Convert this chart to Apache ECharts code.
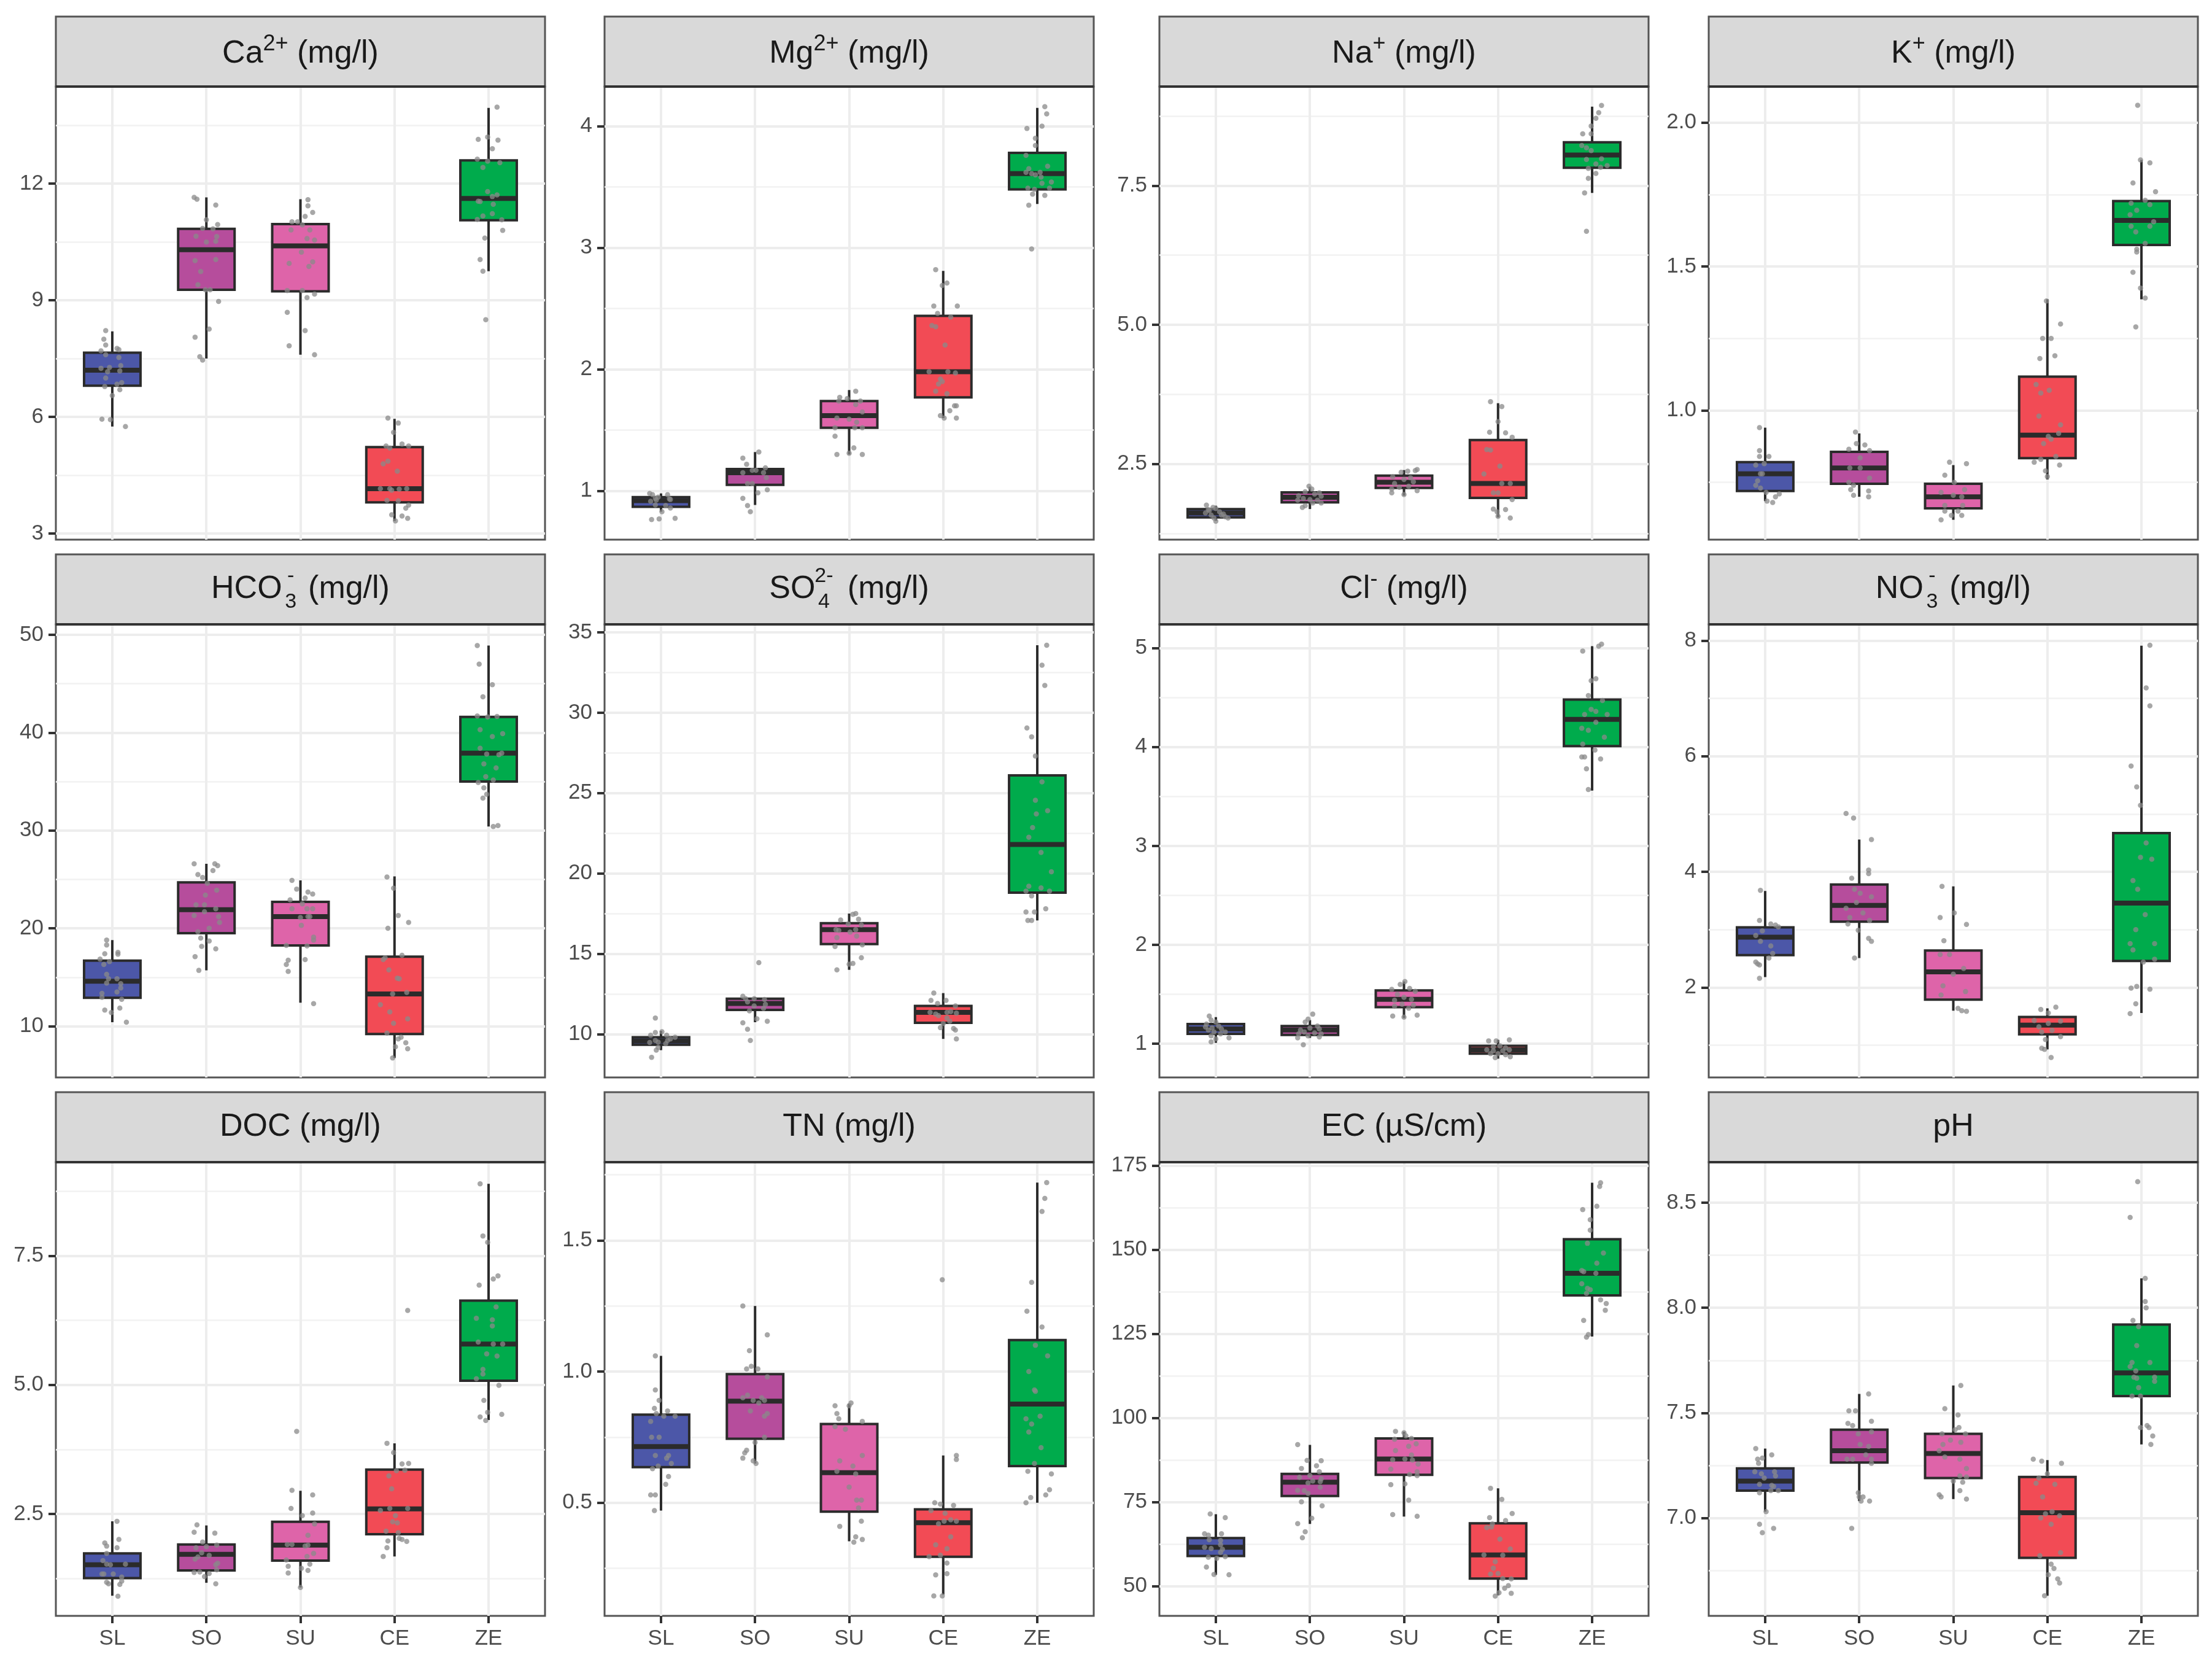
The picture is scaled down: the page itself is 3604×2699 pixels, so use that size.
<!DOCTYPE html>
<html>
<head>
<meta charset="utf-8">
<style>html,body{margin:0;background:#fff}#main{width:3604px;height:2699px}</style>
<script src="https://cdn.jsdelivr.net/npm/echarts@6/dist/echarts.min.js"></script>
</head>
<body>
<div id="main"></div>
<script>
const categories = ['SL', 'SO', 'SU', 'CE', 'ZE'];
const boxColors = ['#4C57A8', '#B64D9C', '#DE64A9', '#F24B55', '#00AB4C'];

// box stats per group: low whisker, q1, median, q3, high whisker
const caBoxes = [[5.75,6.8,7.2,7.65,8.2],[7.5,9.27,10.3,10.84,11.65],[7.6,9.23,10.4,10.96,11.6],[3.32,3.8,4.15,5.22,5.95],[9.75,11.06,11.62,12.6,13.95]];
const mgBoxes = [[.83,.87,.92,.95,.98],[.885,1.05,1.15,1.18,1.32],[1.3,1.52,1.62,1.74,1.83],[1.6,1.77,1.98,2.44,2.81],[3.36,3.48,3.61,3.78,4.15]];
const naBoxes = [[1.48,1.54,1.62,1.69,1.75],[1.69,1.81,1.9,1.99,2.09],[1.93,2.07,2.17,2.29,2.39],[1.54,1.89,2.15,2.93,3.59],[7.37,7.82,8.05,8.28,8.92]];
const kBoxes = [[.685,.72,.78,.82,.94],[.7,.745,.8,.856,.92],[.62,.66,.7,.745,.81],[.76,.834,.914,1.117,1.386],[1.386,1.575,1.66,1.727,1.87]];
const hco3Boxes = [[10.4,12.9,14.6,16.7,18.8],[15.7,19.5,21.9,24.7,26.6],[12.4,18.25,21.2,22.7,24.9],[6.75,9.2,13.3,17.1,25.3],[30.4,35,37.9,41.6,48.9]];
const so4Boxes = [[9,9.33,9.57,9.8,10.2],[10.74,11.5,11.9,12.2,12.3],[14,15.6,16.5,16.9,17.5],[9.7,10.7,11.35,11.75,12.55],[17.07,18.8,21.8,26.1,34.2]];
const clBoxes = [[1.01,1.1,1.15,1.2,1.27],[1.06,1.09,1.14,1.18,1.24],[1.26,1.37,1.45,1.54,1.63],[.85,.9,.94,.98,1.04],[3.56,4.01,4.28,4.48,5.02]];
const no3Boxes = [[2.18,2.56,2.87,3.04,3.67],[2.51,3.14,3.42,3.78,4.56],[1.6,1.79,2.27,2.64,3.75],[.93,1.19,1.35,1.49,1.64],[1.56,2.46,3.46,4.67,7.91]];
const docBoxes = [[.92,1.26,1.52,1.74,2.36],[1.17,1.41,1.72,1.91,2.28],[1.08,1.6,1.9,2.35,2.95],[1.68,2.11,2.6,3.36,3.87],[4.32,5.08,5.79,6.63,8.89]];
const tnBoxes = [[.47,.636,.714,.836,1.06],[.65,.744,.887,.99,1.25],[.353,.466,.615,.8,.878],[.15,.294,.424,.475,.68],[.5,.64,.876,1.12,1.72]];
const ecBoxes = [[53.4,59,61.6,64.3,71.4],[68.5,76.8,80.9,83.4,92],[70.7,83.1,87.8,93.9,95.9],[47.3,52.3,59.3,68.7,79.1],[124.2,136.4,143,153.1,169.9]];
const phBoxes = [[7.03,7.13,7.175,7.236,7.33],[7.08,7.264,7.32,7.42,7.59],[7.09,7.19,7.307,7.4,7.63],[6.63,6.81,7.025,7.195,7.275],[7.35,7.58,7.69,7.92,8.14]];

// tick labels
const caTicks = ['3','6','9','12'];
const mgTicks = ['1','2','3','4'];
const naTicks = ['2.5','5.0','7.5'];
const kTicks = ['1.0','1.5','2.0'];
const hco3Ticks = ['10','20','30','40','50'];
const so4Ticks = ['10','15','20','25','30','35'];
const clTicks = ['1','2','3','4','5'];
const no3Ticks = ['2','4','6','8'];
const docTicks = ['2.5','5.0','7.5'];
const tnTicks = ['0.5','1.0','1.5'];
const ecTicks = ['50','75','100','125','150','175'];
const phTicks = ['7.0','7.5','8.0','8.5'];

// minor grid lines
const caMinor = [4.5,7.5,10.5,13.5];
const mgMinor = [1.5,2.5,3.5];
const naMinor = [1.25,3.75,6.25,8.75];
const kMinor = [.75,1.25,1.75];
const hco3Minor = [15,25,35,45];
const so4Minor = [12.5,17.5,22.5,27.5,32.5];
const clMinor = [1.5,2.5,3.5,4.5];
const no3Minor = [1,3,5,7];
const docMinor = [1.25,3.75,6.25,8.75];
const tnMinor = [.25,.75,1.25,1.75];
const ecMinor = [62.5,87.5,112.5,137.5,162.5];
const phMinor = [6.75,7.25,7.75,8.25];

// jittered samples: group position + jitter, value
const caPoints = [[.93,8.22],[.91,8],[.93,7.85],[.88,7.7],[1.05,7.76],[1.07,7.73],[.93,7.6],[1.07,7.53],[1.09,7.32],[.88,7.25],[.97,7.27],[.95,7.16],[1.08,7.18],[.93,7],[1.1,6.88],[1.05,6.84],[.92,6.78],[1.08,6.7],[1,6.55],[.89,5.94],[.98,5.93],[1.14,5.75],
[1.87,11.65],[1.9,11.6],[2.1,11.45],[2,11.07],[1.96,10.85],[2.12,10.95],[2.07,10.84],[1.89,10.65],[2.11,10.64],[2.1,10.52],[2,10.5],[1.88,10.02],[2.1,10.05],[1.94,9.74],[1.91,9.4],[1.99,9.27],[2.04,9.27],[2.13,8.97],[2.03,8.26],[1.88,8.05],[1.93,7.55],[1.96,7.46],
[3.08,11.59],[3.08,11.43],[3.13,11.26],[3.05,11.16],[2.91,11.02],[2.97,11.02],[3.02,10.94],[2.9,10.81],[3.1,10.81],[3.07,10.59],[3.15,10.55],[3.01,10.24],[2.88,9.95],[3.13,9.99],[3.09,9.87],[2.86,9.25],[3.02,9.25],[3.15,9.16],[3.07,9.07],[2.86,8.69],[3.05,8.22],[2.88,7.83],[3.15,7.6],
[3.93,5.97],[4.04,5.84],[3.99,5.6],[3.91,5.25],[4.08,5.3],[4.15,5.25],[3.95,5.2],[3.93,4.86],[3.88,4.79],[4.03,4.6],[3.85,4.15],[3.95,4.15],[3.97,4.11],[4.05,4.14],[4.13,4.15],[3.92,3.85],[4.04,3.84],[4.15,3.73],[4.12,3.65],[3.97,3.48],[4.08,3.45],[4.01,3.32],[4.14,3.39],
[5.09,13.97],[4.99,13.2],[4.89,13.14],[5.1,13.12],[5.04,12.9],[4.88,12.63],[4.99,12.58],[5.12,12.54],[4.94,12.42],[4.99,11.8],[5.09,11.71],[5.04,11.67],[4.89,11.55],[4.91,11.54],[5.05,11.47],[5.04,11.23],[4.94,11.17],[4.88,11.08],[5.14,11.07],[5.15,10.8],[4.96,10.6],[4.91,10.05],[4.94,9.75],[4.97,8.5]];
const mgPoints = [[.9,.765],[.98,.77],[1.15,.775],[1.01,.83],[1.1,.86],[.94,.885],[.89,.915],[.95,.925],[1.09,.935],[.91,.97],[.88,.98],[1.07,.97],[.97,.95],[.94,.94],[1.1,.93],[1.05,.88],
[2.04,1.32],[1.87,1.27],[1.91,1.22],[2.11,1.19],[1.97,1.17],[2.01,1.17],[1.87,1.15],[2.09,1.15],[2.12,1.11],[1.92,1.06],[1.97,1.06],[2.13,1.01],[2.03,.985],[1.87,.94],[1.92,.88],[1.95,.83],
[3.07,1.82],[2.9,1.77],[2.98,1.76],[2.89,1.74],[3.12,1.74],[3.07,1.71],[3.14,1.65],[2.87,1.6],[3,1.59],[3.08,1.565],[3.14,1.52],[3.06,1.52],[2.85,1.52],[2.85,1.45],[3.05,1.355],[2.87,1.3],[3,1.31],[3.14,1.3],
[3.92,2.82],[4.04,2.71],[3.99,2.69],[3.9,2.52],[4.15,2.52],[3.94,2.46],[4.08,2.43],[3.88,2.36],[3.92,2.35],[4.02,2.2],[3.85,1.98],[4.05,1.98],[4.13,1.97],[3.97,1.92],[3.99,1.9],[3.95,1.88],[3.92,1.82],[4.04,1.8],[4.12,1.7],[4.14,1.7],[4.07,1.66],[3.97,1.62],[4.01,1.6],[4.14,1.6],
[5.08,4.16],[5.1,4.1],[4.89,3.98],[5.05,4],[4.98,3.9],[4.98,3.84],[4.88,3.76],[5.11,3.67],[4.91,3.65],[4.88,3.62],[4.94,3.61],[5.03,3.62],[4.98,3.6],[5.04,3.58],[5.05,3.53],[5.15,3.54],[4.9,3.49],[4.97,3.48],[5.13,3.49],[4.95,3.44],[5.08,3.43],[4.91,3.35],[4.94,2.99]];
const naPoints = [[.9,1.76],[.97,1.72],[1,1.7],[.93,1.66],[1.04,1.64],[1.08,1.6],[.89,1.62],[.95,1.58],[1.1,1.55],[.98,1.53],[1.13,1.53],[1,1.47],[1.06,1.58],[.92,1.68],
[1.99,2.1],[2.02,2.05],[1.95,2],[2.1,1.98],[1.88,1.93],[2.05,1.96],[2.12,1.92],[1.93,1.88],[2,1.86],[2.08,1.85],[1.87,1.85],[1.95,1.75],[1.92,1.72],[2.03,1.8],[2.12,1.8],
[3.14,2.4],[3.04,2.37],[2.97,2.35],[3.12,2.38],[2.88,2.27],[3.07,2.25],[3,2.22],[2.9,2.15],[3.1,2.18],[3.05,2.1],[2.87,2.05],[2.87,1.98],[3.14,2.02],[3,1.95],[2.95,2.08],
[3.92,3.62],[4.04,3.53],[4,3.26],[3.91,3.07],[4.08,3.06],[4.15,2.98],[3.88,2.76],[3.92,2.75],[4.02,2.46],[3.85,2.32],[4.04,2.15],[4.13,2.15],[3.95,1.98],[4,1.98],[4.15,1.86],[3.95,1.69],[3.99,1.64],[4.08,1.68],[4.13,1.53],[4,1.56],
[5.1,8.94],[5.07,8.81],[5.04,8.71],[4.99,8.57],[4.9,8.43],[4.99,8.43],[4.89,8.22],[4.94,8.18],[4.99,8.13],[4.94,7.97],[5.1,7.98],[5.04,7.89],[5.16,7.86],[5.09,7.83],[4.96,7.81],[5.04,7.72],[4.96,7.63],[4.92,7.37],[4.94,6.68]];
const kPoints = [[.94,.94],[.94,.86],[1.04,.84],[.94,.84],[.9,.81],[.99,.815],[.97,.78],[.95,.78],[.92,.755],[.9,.74],[.95,.73],[1.15,.71],[1.01,.715],[1.11,.7],[1.02,.685],[1.08,.68],
[1.96,.925],[1.97,.885],[1.89,.865],[2.06,.88],[2.11,.86],[2.01,.835],[1.9,.8],[2.01,.8],[2.11,.765],[1.89,.75],[1.94,.74],[1.91,.725],[2.1,.72],[1.94,.705],[2.1,.7],
[3.14,.815],[2.96,.82],[2.91,.775],[3.01,.75],[2.87,.715],[3.12,.725],[3,.705],[3.09,.7],[3.1,.67],[2.91,.67],[3.05,.65],[2.91,.65],[3.09,.635],[2.98,.635],[2.87,.62],
[3.99,1.38],[4.14,1.3],[3.95,1.25],[4.04,1.25],[3.92,1.18],[4.08,1.19],[3.88,1.09],[4.02,1.07],[3.93,1.06],[3.91,.98],[4.14,.95],[4.12,.92],[4.01,.91],[3.96,.885],[4.04,.9],[4.09,.84],[3.93,.83],[3.86,.82],[4.13,.81],[3.98,.79],[4,.77],
[4.96,2.06],[4.99,1.87],[5.09,1.86],[4.91,1.79],[5.15,1.76],[5.04,1.73],[5.09,1.715],[4.89,1.72],[4.95,1.695],[4.88,1.68],[5.13,1.655],[5.09,1.64],[4.89,1.64],[4.94,1.62],[5.04,1.58],[4.95,1.56],[4.95,1.55],[4.91,1.48],[4.99,1.425],[5.04,1.39],[4.94,1.29]];
const hco3Points = [[.94,18.8],[.94,18.3],[.92,17.4],[1.06,17.55],[1.06,17.35],[.87,16.85],[.97,16.6],[.91,16.3],[.94,15.3],[.96,14.85],[1.05,14.85],[.94,14.4],[1.09,14.35],[1.09,13.9],[1.05,13.5],[.89,13.35],[.89,12.95],[1.1,12.75],[1.08,11.85],[.92,11.65],[.99,11.4],[1.15,10.4],
[1.87,26.6],[2.09,26.6],[2.12,26.4],[2.07,25.9],[1.91,25.5],[1.96,25.2],[2.01,24.6],[2.11,23.9],[1.99,23.4],[1.89,22.4],[1.98,22.4],[2.1,22],[1.98,21.7],[1.87,21.3],[2.13,21.2],[2.14,20.6],[2.03,20],[1.91,19.65],[1.94,19],[2.03,18.7],[1.95,18.15],[2.1,17.9],[1.88,17.1],[1.92,15.7],
[2.91,24.9],[2.96,24],[3.08,23.7],[3.13,23.5],[3.05,23.1],[2.89,22.9],[3.02,22.5],[2.91,22],[3.07,22],[3.13,22],[3,21.1],[3.08,21.2],[3.1,21.2],[3.01,20.3],[3.14,19.1],[3.14,18.8],[2.85,18.25],[3.07,18.2],[2.87,16.75],[3.05,16.8],[2.85,16.3],[2.87,15.6],[3.14,12.3],
[3.92,25.25],[3.99,24.1],[4.04,21.3],[4.15,20.6],[3.93,20],[4.08,17.25],[3.9,17],[3.88,16.8],[3.94,15.75],[4.03,14.9],[4.05,14.85],[3.98,13.3],[4.13,13.45],[3.85,12.2],[3.95,11.45],[4.14,10.75],[3.99,10.3],[3.92,9.3],[4.04,8.7],[4.07,8.87],[4.12,8.3],[4.01,7.9],[4.14,7.7],[3.98,6.75],
[4.88,48.9],[4.9,47],[5.04,44.9],[4.94,43.65],[4.88,41.7],[4.99,41.6],[5.09,41.65],[4.91,40.3],[5.15,39.9],[5.04,39.6],[4.91,38.4],[4.98,37.8],[5.11,37.75],[5.14,37.9],[4.95,36.8],[5.08,36.4],[4.97,35.5],[5.05,35.15],[4.89,34.9],[4.95,34.35],[4.98,33.7],[4.94,33.3],[5.05,30.4],[5.1,30.5]];
const so4Points = [[.94,11],[1.01,10.15],[.94,10.1],[.89,9.93],[1.06,9.93],[1.15,9.8],[1.1,9.7],[1.07,9.6],[.94,9.6],[.97,9.5],[.88,9.48],[1.05,9.4],[.97,9.17],[.95,9],[.9,8.55],
[2.04,14.45],[1.87,12.35],[1.9,12.2],[1.99,12.2],[2.1,12.15],[1.92,12],[2.11,11.85],[1.99,11.75],[2.09,11.6],[1.94,11.45],[2.02,10.95],[1.87,10.7],[2.13,10.8],[1.92,10.3],[1.95,9.6],
[3.07,17.5],[3.04,17.45],[2.91,17.1],[3.1,17.15],[3.13,16.8],[2.99,16.85],[2.86,16.5],[2.89,16.45],[3.07,16.5],[3.01,16.35],[2.87,16],[3.08,16.1],[3.14,15.55],[2.85,15.45],[3.13,14.75],[3.04,14.4],[3,14.35],[2.87,14],
[3.9,12.55],[3.87,12.1],[4.03,12.1],[3.94,11.9],[4.13,11.75],[3.86,11.35],[3.92,11.25],[3.95,11.15],[4.04,11.35],[4.08,11.4],[4.14,11.3],[4.04,11],[4.07,10.8],[4,10.65],[3.97,10.4],[4.11,10.35],[4.13,10.25],[4.14,9.7],
[5.1,34.2],[5.05,32.96],[5.08,31.7],[4.89,29.05],[4.94,28.5],[4.98,27.3],[5.05,25.7],[4.98,24.55],[5.11,23.9],[4.99,23.7],[4.95,22.85],[4.91,22.25],[5.04,21.3],[5.15,20.1],[4.91,19.2],[5.04,19.1],[4.88,18.9],[5.13,18.9],[4.94,18.6],[5.09,17.8],[4.88,17.6],[4.97,17.6],[4.9,17.07],[4.94,17.07]];
const clPoints = [[.93,1.28],[.95,1.24],[.9,1.2],[1,1.22],[.96,1.16],[1.03,1.18],[.92,1.14],[1.06,1.15],[.98,1.12],[1.1,1.12],[.95,1.08],[1.05,1.1],[1.14,1.06],[.95,1.02],[1,1.05],[.89,1.17],
[2.03,1.3],[1.95,1.22],[1.98,1.25],[2.08,1.18],[1.9,1.14],[2,1.16],[2.1,1.15],[1.94,1.12],[2.05,1.11],[2.12,1.1],[1.88,1.1],[1.98,1.08],[2.1,1.07],[1.87,1.06],[1.93,.99],
[3.01,1.63],[2.96,1.6],[3.06,1.56],[2.87,1.55],[3.12,1.53],[2.93,1.5],[3,1.47],[3.08,1.45],[2.9,1.44],[2.98,1.4],[3.1,1.39],[3.05,1.36],[2.9,1.38],[2.88,1.28],[3,1.27],[3.14,1.29],
[3.9,1.03],[3.98,1.03],[4.12,1.04],[4.02,.98],[4.08,.96],[3.95,.97],[3.88,.94],[3.95,.93],[4.05,.93],[4.12,.94],[3.92,.9],[4,.9],[4.08,.89],[3.97,.86],[4.13,.87],
[4.9,4.97],[5.07,5.02],[5.1,5.04],[5.04,4.69],[4.99,4.67],[4.96,4.52],[5.11,4.47],[5.04,4.36],[4.99,4.38],[4.92,4.33],[5.16,4.33],[4.89,4.19],[5.04,4.25],[4.96,4.17],[5.13,4.1],[4.9,4.03],[5.03,3.97],[4.89,3.9],[4.92,3.9],[5.09,3.88],[4.94,3.78],[4.96,3.57]];
const no3Points = [[.95,3.68],[.94,3.16],[1.06,3.1],[1.11,3.08],[1.14,3.05],[.97,2.98],[.9,2.9],[.95,2.8],[1.06,2.72],[1.08,2.59],[1.04,2.51],[.9,2.44],[.94,2.39],[.92,2.41],[.94,2.16],
[1.86,5.01],[1.94,4.93],[2.13,4.56],[2.1,4.03],[2.1,3.97],[1.92,3.89],[1.95,3.7],[2.01,3.63],[2.13,3.57],[1.97,3.47],[1.86,3.37],[2.04,3.29],[1.9,3.21],[2.11,3.16],[1.88,3.1],[1.99,2.99],[2.1,2.85],[2.13,2.8],[1.95,2.51],
[2.88,3.75],[3.01,3.29],[2.86,3.21],[3.14,3.09],[2.9,2.81],[2.86,2.57],[2.96,2.57],[3.11,2.33],[3,2.23],[2.89,2.03],[3.13,1.93],[2.87,1.87],[3.05,1.64],[3.09,1.6],[3.14,1.59],
[3.93,1.62],[4.09,1.66],[4.01,1.56],[3.86,1.43],[4.14,1.42],[4.01,1.38],[3.91,1.32],[4.05,1.26],[3.94,1.23],[4.14,1.15],[3.98,1.1],[3.94,.95],[3.97,.93],[4.04,.79],
[5.09,7.92],[5.05,7.18],[5.09,6.87],[4.89,5.83],[4.95,5.47],[4.99,5.15],[5.05,4.5],[4.99,4.25],[5.11,4.22],[4.91,3.85],[4.96,3.7],[5.04,3.26],[4.94,3],[5.14,2.76],[4.88,2.76],[4.91,2.65],[5.14,2.49],[5.02,2.44],[4.95,2.02],[4.89,1.99],[5.09,1.97],[4.94,1.72],[4.88,1.55]];
const docPoints = [[1.05,2.36],[1.07,2.01],[.92,1.94],[.94,1.88],[1.05,1.85],[.94,1.74],[.9,1.6],[.94,1.53],[.98,1.52],[1.14,1.53],[.89,1.34],[.91,1.34],[1.01,1.34],[1.1,1.28],[1.1,1.2],[.94,1.18],[.96,1.15],[1.08,1.14],[1.06,.91],
[1.9,2.29],[1.87,2.15],[2.09,2.13],[1.96,1.96],[2.11,1.9],[2,1.87],[1.89,1.85],[1.95,1.75],[2.03,1.7],[1.91,1.67],[1.88,1.63],[2.12,1.55],[2.1,1.52],[2.11,1.42],[1.87,1.37],[1.93,1.38],[2.03,1.35],[1.98,1.29],[2.1,1.15],
[2.96,4.1],[2.91,2.96],[3.13,2.87],[2.9,2.61],[3.13,2.52],[3.02,2.47],[3.15,2.31],[3.08,2.09],[2.86,1.91],[2.91,1.91],[3.05,1.88],[3.08,1.9],[3.14,1.74],[3.07,1.68],[2.85,1.61],[3.1,1.53],[2.87,1.49],[3.01,1.45],[3.08,1.41],[2.87,1.36],[3,1.08],
[4.14,6.44],[3.92,3.87],[3.99,3.69],[4.08,3.47],[4.15,3.48],[4.02,3.34],[4.11,3.35],[3.94,3.24],[3.97,2.99],[3.85,2.57],[3.95,2.61],[4.14,2.61],[4.01,2.47],[3.98,2.35],[4.03,2.33],[3.91,2.17],[4.04,2.14],[4.05,2.03],[3.93,1.98],[4.08,2.01],[4.13,1.97],[3.92,1.85],[3.88,1.68],
[4.91,8.89],[4.94,7.88],[4.99,7.76],[5.1,7.11],[5.05,7.05],[4.9,6.93],[5.08,6.51],[4.87,6.29],[5.04,6.26],[5.04,6.14],[4.89,5.83],[5.05,5.79],[5.15,5.79],[4.98,5.6],[5.09,5.56],[4.94,5.3],[4.94,5.21],[4.87,5.12],[5.11,4.99],[4.95,4.7],[4.99,4.47],[5.14,4.43],[4.91,4.38],[4.97,4.31]];
const tnPoints = [[.94,1.06],[.94,.93],[.98,.89],[.93,.86],[1.07,.85],[.95,.84],[1.03,.83],[1.15,.83],[.89,.81],[.9,.75],[.98,.75],[.94,.68],[1.08,.68],[1.06,.67],[1.11,.65],[.97,.64],[.91,.63],[1.08,.6],[1.05,.57],[.89,.53],[.94,.53],[.93,.47],
[1.87,1.25],[2.13,1.14],[1.94,1.08],[1.96,1.02],[1.91,1.01],[2.03,1.01],[2.13,.98],[1.92,.91],[1.87,.9],[1.98,.89],[2.07,.9],[2.1,.89],[2.04,.88],[1.95,.85],[2.13,.84],[2.1,.83],[2.1,.75],[2,.73],[1.91,.7],[1.89,.69],[1.87,.67],[1.98,.66],[2.01,.65],
[3.02,.88],[3,.87],[2.85,.87],[2.87,.84],[2.89,.82],[3.14,.81],[2.85,.79],[2.96,.78],[3.14,.68],[2.9,.66],[3.04,.64],[2.87,.62],[3.07,.61],[3,.56],[3.08,.51],[3.13,.51],[3.1,.48],[2.9,.41],[3.13,.43],[3.07,.37],[3.05,.35],[3.14,.36],
[3.99,1.35],[4.14,.68],[4.14,.665],[3.91,.5],[3.97,.495],[4.11,.49],[3.87,.47],[4.02,.46],[4.08,.435],[4.14,.43],[4.01,.43],[3.95,.42],[4.08,.37],[3.92,.34],[4.04,.325],[3.85,.295],[3.97,.3],[4.04,.27],[3.92,.225],[4.04,.23],[3.9,.145],[3.99,.145],
[5.1,1.72],[5.08,1.66],[5.05,1.61],[4.94,1.34],[4.89,1.23],[5.05,1.17],[4.98,1.1],[5.11,1.06],[4.91,1],[4.97,.93],[4.98,.925],[5.03,.83],[4.88,.82],[4.94,.8],[4.91,.77],[5.04,.71],[4.97,.65],[4.9,.62],[5.15,.61],[5.13,.55],[5.09,.53],[4.93,.52],[4.88,.5]];
const ecPoints = [[.94,71.5],[1.1,70.4],[.88,65.6],[.92,65.2],[1.06,65.6],[.93,63.8],[1.05,63.6],[1.05,62.3],[.88,61.6],[.95,61.2],[1.07,61],[1.05,60.1],[1.1,58.8],[.92,58.6],[1.01,58.3],[.9,55.7],[.98,53.5],[1.14,53.4],
[1.87,92.1],[1.97,87.4],[2.12,87.3],[2.07,85.8],[1.91,85],[2.1,84],[2,82.9],[1.89,82.4],[2.12,81.9],[2.03,81.3],[1.98,80.7],[2.11,81.1],[2.11,79.4],[1.87,78.5],[1.94,78.4],[1.98,77.6],[1.91,75.1],[2.13,73.9],[2.02,70.2],[1.87,68.6],[1.95,66.2],[1.92,64.4],
[2.91,96],[3,95.6],[3.02,94.7],[2.9,93.7],[3.08,93.9],[3.13,92.3],[3.05,91.6],[2.91,90.3],[3.08,89],[2.88,87.6],[3.01,87.8],[3.09,87.5],[3.15,86.3],[2.86,84.8],[3.14,84],[3.06,83.2],[3.14,82.9],[2.86,80.2],[3.01,80.4],[3.05,75.6],[2.88,71.3],[3.14,70.8],
[3.92,79.1],[4.04,75.8],[4.15,71.6],[3.91,70.4],[4.08,69.5],[3.94,68.5],[3.88,67.4],[3.93,67.6],[4.02,64],[4.13,61.1],[3.85,59.3],[4.05,59.2],[3.97,57.3],[3.95,55.4],[3.92,53.6],[4,53.8],[4.05,52.3],[4.14,52.2],[4.11,50.2],[4.07,49.4],[4.01,48.1],[4.14,47.9],[3.97,47.1],
[5.09,169.9],[5.08,168.8],[4.9,161.9],[5.05,162.9],[4.98,158.9],[4.98,155.8],[4.95,151.9],[5.12,149],[5.05,146],[4.89,143.8],[4.91,143.5],[5.04,143],[4.89,139.9],[4.95,138.5],[4.98,138.1],[4.94,137],[5.09,135.1],[5.15,134],[5.14,132],[4.91,129],[4.96,124.8],[4.94,124]];
const phPoints = [[.9,7.33],[1.07,7.3],[.97,7.285],[.92,7.28],[.93,7.26],[.89,7.22],[1.1,7.22],[.96,7.21],[.99,7.19],[1.11,7.2],[.94,7.16],[1.07,7.155],[1.09,7.15],[1.14,7.13],[.94,7.12],[1.06,7.13],[1.01,7.03],[.94,6.97],[1.09,6.95],[.97,6.93],
[2.1,7.59],[1.89,7.51],[1.96,7.51],[2.13,7.46],[1.88,7.45],[1.93,7.44],[1.99,7.4],[2.13,7.41],[2.01,7.35],[2.1,7.34],[2.07,7.3],[1.87,7.28],[1.93,7.28],[2.13,7.28],[2.13,7.26],[1.99,7.12],[2,7.1],[2.04,7.1],[2.02,7.08],[2.11,7.08],[1.92,6.95],
[3.08,7.63],[2.91,7.52],[3.05,7.49],[3.06,7.43],[3.02,7.42],[2.88,7.4],[3.13,7.4],[2.97,7.37],[3.08,7.36],[2.89,7.35],[2.85,7.32],[2.91,7.29],[3.07,7.28],[3.14,7.235],[3.14,7.195],[3.07,7.2],[3,7.175],[3.1,7.17],[3.07,7.13],[2.85,7.11],[2.87,7.1],[3.14,7.09],
[3.85,7.28],[3.94,7.27],[4.15,7.26],[4,7.21],[3.91,7.19],[3.88,7.165],[4.08,7.16],[3.95,7.1],[3.98,7.02],[4.05,7.03],[4.13,7.01],[3.93,7],[4.04,6.97],[4.14,6.835],[3.92,6.82],[4.04,6.78],[4.07,6.76],[4.01,6.73],[4.11,6.71],[4.13,6.69],[3.97,6.63],
[4.96,8.6],[4.88,8.43],[5.04,8.14],[5.04,8.03],[5.05,8],[4.91,7.94],[4.97,7.91],[4.95,7.82],[4.9,7.74],[5.09,7.74],[4.88,7.72],[4.94,7.7],[4.92,7.67],[4.95,7.665],[5.14,7.67],[5.14,7.65],[4.97,7.62],[4.9,7.58],[4.99,7.58],[4.99,7.43],[5.06,7.44],[5.08,7.43],[5.12,7.39],[5.1,7.35]];

// panel layout, ggplot facet grid
const colLeft = [91, 985, 1889, 2784];
const panelWidth = 797;
const stripTop = [27, 903, 1779];
const plotTop = [141, 1017, 1893];
const plotBottom = [879, 1755, 2632];
const titleOffset = [4, 0, 0];

const panels = [
  { title: 'Ca{sup|2+} (mg/l)', boxes: caBoxes, points: caPoints, ticks: caTicks, minor: caMinor, min: 2.84, max: 14.5 },
  { title: 'Mg{sup|2+} (mg/l)', boxes: mgBoxes, points: mgPoints, ticks: mgTicks, minor: mgMinor, min: 0.6, max: 4.325 },
  { title: 'Na{sup|+} (mg/l)', boxes: naBoxes, points: naPoints, ticks: naTicks, minor: naMinor, min: 1.14, max: 9.28 },
  { title: 'K{sup|+} (mg/l)', boxes: kBoxes, points: kPoints, ticks: kTicks, minor: kMinor, min: 0.551, max: 2.125 },
  { title: 'HCO{g1| }{sub|3}{supz|-}{g2| } (mg/l)', boxes: hco3Boxes, points: hco3Points, ticks: hco3Ticks, minor: hco3Minor, min: 4.76, max: 51.06 },
  { title: 'SO{g1| }{sub|4}{supz|2-}{g3| } (mg/l)', boxes: so4Boxes, points: so4Points, ticks: so4Ticks, minor: so4Minor, min: 7.3, max: 35.5 },
  { title: 'Cl{sup|-} (mg/l)', boxes: clBoxes, points: clPoints, ticks: clTicks, minor: clMinor, min: 0.66, max: 5.24 },
  { title: 'NO{g1| }{sub|3}{supz|-}{g2| } (mg/l)', boxes: no3Boxes, points: no3Points, ticks: no3Ticks, minor: no3Minor, min: 0.445, max: 8.28 },
  { title: 'DOC (mg/l)', boxes: docBoxes, points: docPoints, ticks: docTicks, minor: docMinor, min: 0.53, max: 9.31 },
  { title: 'TN (mg/l)', boxes: tnBoxes, points: tnPoints, ticks: tnTicks, minor: tnMinor, min: 0.069, max: 1.798 },
  { title: 'EC (µS/cm)', boxes: ecBoxes, points: ecPoints, ticks: ecTicks, minor: ecMinor, min: 41.2, max: 176 },
  { title: 'pH', boxes: phBoxes, points: phPoints, ticks: phTicks, minor: phMinor, min: 6.534, max: 8.693 }
];

const font = '"Liberation Sans", Arial, sans-serif';
const groupTicks = categories.map((c, i) => i + 1);

function renderBox (params, api) {
  const x = api.value(0);
  const low = api.coord([x, api.value(1)]);
  const q1 = api.value(2);
  const med = api.value(3);
  const q3 = api.value(4);
  const high = api.coord([x, api.value(5)]);
  const a = api.coord([x - 0.3, q3]);
  const b = api.coord([x + 0.3, q1]);
  const m1 = api.coord([x - 0.3, med]);
  const m2 = api.coord([x + 0.3, med]);
  const dark = { stroke: '#2B2B2B', lineWidth: 4 };
  return {
    type: 'group',
    children: [
      { type: 'line', shape: { x1: low[0], y1: low[1], x2: high[0], y2: high[1] }, style: dark },
      { type: 'rect', shape: { x: a[0], y: a[1], width: b[0] - a[0], height: b[1] - a[1] }, style: { fill: boxColors[params.dataIndex], stroke: '#2B2B2B', lineWidth: 4 } },
      { type: 'line', shape: { x1: m1[0], y1: m1[1], x2: m2[0], y2: m2[1] }, style: { stroke: '#2B2B2B', lineWidth: 8 } }
    ]
  };
}

const option = { animation: false, backgroundColor: '#fff', grid: [], xAxis: [], yAxis: [], series: [], title: [], graphic: { elements: [] } };

panels.forEach((p, i) => {
  const col = i % 4;
  const row = Math.floor(i / 4);
  const left = colLeft[col];
  const top = plotTop[row];
  const height = plotBottom[row] - top;

  option.grid.push({ left: left, top: top, width: panelWidth, height: height, show: true, borderColor: '#555', borderWidth: 3, backgroundColor: '#fff' });
  option.xAxis.push({
    type: 'value', gridIndex: i, min: 0.4, max: 5.6,
    axisLine: { show: false },
    axisTick: { show: row === 2, customValues: groupTicks, length: 12, lineStyle: { color: '#333', width: 4 } },
    axisLabel: { show: row === 2, customValues: groupTicks, margin: 20, fontSize: 35, color: '#4D4D4D', fontFamily: font, formatter: v => categories[v - 1] },
    splitLine: { show: true, lineStyle: { color: '#EDEDED', width: 4 } }
  });
  const tickValues = p.ticks.map(Number);
  option.yAxis.push({
    type: 'value', gridIndex: i, min: p.min, max: p.max,
    axisLine: { show: false },
    axisTick: { customValues: tickValues, length: 12, lineStyle: { color: '#333', width: 4 } },
    axisLabel: { customValues: tickValues, margin: 20, fontSize: 35, padding: [4, 0, 0, 0], color: '#4D4D4D', fontFamily: font, formatter: v => p.ticks[tickValues.indexOf(v)] },
    splitLine: { show: true, lineStyle: { color: '#EDEDED', width: 4 } }
  });
  option.yAxis.push({
    type: 'value', gridIndex: i, min: p.min, max: p.max,
    axisLine: { show: false },
    axisTick: { show: false, customValues: p.minor },
    axisLabel: { show: false, customValues: p.minor },
    splitLine: { show: true, lineStyle: { color: '#F2F2F2', width: 2.5 } }
  });
  option.series.push({
    type: 'custom', xAxisIndex: i, yAxisIndex: i * 2, z: 3,
    data: p.boxes.map((b, g) => [g + 1, ...b]),
    encode: { x: 0, y: [1, 2, 3, 4, 5] },
    renderItem: renderBox
  });
  option.series.push({
    type: 'scatter', xAxisIndex: i, yAxisIndex: i * 2, z: 4,
    data: p.points, symbolSize: 8.5,
    itemStyle: { color: '#8A8A8A', opacity: 0.75 }
  });

  // strip above the panel
  option.graphic.elements.push({
    type: 'rect', z: 5,
    shape: { x: left, y: stripTop[row], width: panelWidth, height: top - stripTop[row] },
    style: { fill: '#D9D9D9', stroke: '#555', lineWidth: 3 }
  });
  option.graphic.elements.push({
    type: 'line', z: 6,
    shape: { x1: left, y1: top, x2: left + panelWidth, y2: top },
    style: { stroke: '#333', lineWidth: 4 }
  });
  option.title.push({
    text: p.title, left: left + panelWidth / 2, top: (stripTop[row] + top) / 2 + titleOffset[row], z: 10, padding: 0,
    textAlign: 'center', textVerticalAlign: 'middle',
    textStyle: {
      fontSize: 52, fontWeight: 'normal', color: '#1A1A1A', fontFamily: font,
      rich: {
        sup: { fontSize: 36, verticalAlign: 'top', lineHeight: 68, fontFamily: font, color: '#1A1A1A' },
        supz: { fontSize: 34, verticalAlign: 'top', lineHeight: 76, width: 0, fontFamily: font, color: '#1A1A1A' },
        sub: { fontSize: 34, verticalAlign: 'bottom', lineHeight: 76, width: 0, fontFamily: font, color: '#1A1A1A' },
        g1: { width: 14 },
        g2: { width: 14 },
        g3: { width: 24 }
      }
    }
  });
});

const chart = echarts.init(document.getElementById('main'));
chart.setOption(option);
</script>
</body>
</html>
